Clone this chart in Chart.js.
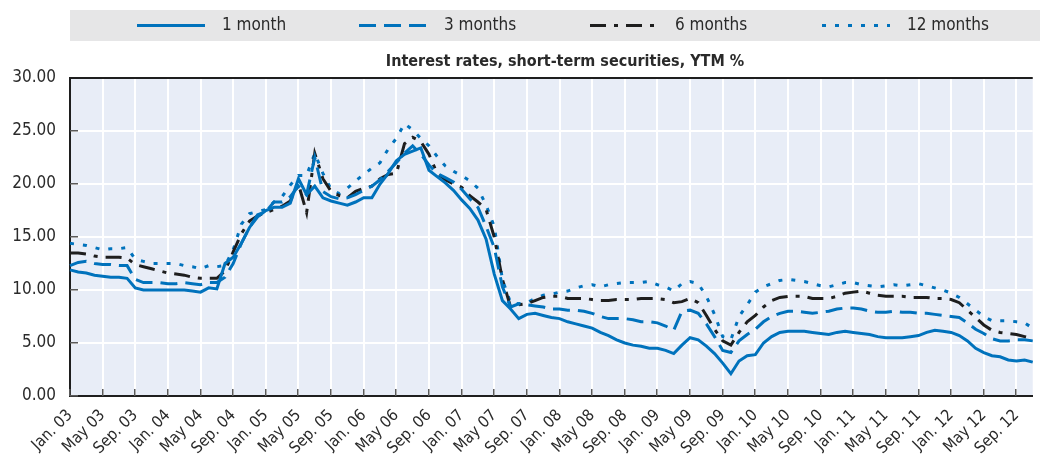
<!DOCTYPE html>
<html><head><meta charset="utf-8">
<script src="https://cdn.jsdelivr.net/npm/chart.js@4.4.0/dist/chart.umd.min.js"></script>
<style>html,body{margin:0;padding:0;background:#fff;}</style>
</head><body>
<canvas id="c" width="1040" height="459"></canvas>
<script>
// ---------- DATA ----------
const monthNames = ['Jan.','Feb.','Mar.','Apr.','May','Jun.','Jul.','Aug.','Sep.','Oct.','Nov.','Dec.'];
const years = ['03','04','05','06','07','08','09','10','11','12'];
const tickLabels = ['Jan. 03','May 03','Sep. 03','Jan. 04','May 04','Sep. 04','Jan. 05','May 05','Sep. 05',
  'Jan. 06','May 06','Sep. 06','Jan. 07','May 07','Sep. 07','Jan. 08','May 08','Sep. 08','Jan. 09','May 09',
  'Sep. 09','Jan. 10','May 10','Sep. 10','Jan. 11','May 11','Sep. 11','Jan. 12','May 12','Sep. 12'];
const seriesNames = ['1 month','3 months','6 months','12 months'];

const oneMonth = [11.9,11.7,11.6,11.4,11.3,11.2,11.2,11.1,10.2,10.0,
  10.0,10.0,10.0,10.0,10.0,9.9,9.8,10.2,10.1,12.5,
  13.1,14.4,15.9,16.9,17.5,17.8,17.8,18.2,20.5,19.0,
  19.8,18.7,18.4,18.2,18.0,18.3,18.7,18.7,20.0,21.0,
  22.2,22.8,23.1,23.4,21.3,20.7,20.1,19.4,18.5,17.7,
  16.6,14.8,11.5,9.0,8.2,7.3,7.7,7.8,7.6,7.4,
  7.3,7.0,6.8,6.6,6.4,6.0,5.7,5.3,5.0,4.8,
  4.7,4.5,4.5,4.3,4.0,4.8,5.5,5.3,4.7,4.0,
  3.1,2.1,3.3,3.8,3.9,5.0,5.6,6.0,6.1,6.1,
  6.1,6.0,5.9,5.8,6.0,6.1,6.0,5.9,5.8,5.6,
  5.5,5.5,5.5,5.6,5.7,6.0,6.2,6.1,6.0,5.7,
  5.2,4.5,4.1,3.8,3.7,3.4,3.3,3.4,3.2];

const threeMonths = [12.3,12.6,12.7,12.5,12.4,12.4,12.3,12.3,11.0,10.7,
  10.7,10.7,10.6,10.6,10.7,10.6,10.5,10.7,10.7,11.2,
  12.5,14.4,15.9,17.1,17.4,18.3,18.3,18.8,19.8,19.0,
  22.5,19.3,18.8,18.6,18.7,19.0,19.4,19.8,20.4,21.2,
  22.0,22.9,23.6,22.8,21.8,21.0,20.6,20.2,19.5,18.6,
  17.8,16.0,14.0,10.3,8.4,8.7,8.6,8.5,8.4,8.2,
  8.2,8.1,8.1,8.0,7.8,7.5,7.3,7.3,7.3,7.2,
  7.0,7.0,6.9,6.6,6.2,8.0,8.1,7.8,6.8,5.6,
  4.3,4.1,5.2,5.8,6.3,7.0,7.5,7.8,8.0,8.0,
  7.9,7.8,7.9,8.0,8.2,8.3,8.3,8.2,8.0,7.9,
  7.9,8.0,7.9,7.9,7.8,7.8,7.7,7.6,7.5,7.4,
  6.9,6.3,5.9,5.4,5.2,5.2,5.3,5.3,5.2];

const sixMonths = [13.5,13.5,13.4,13.2,13.1,13.1,13.1,13.0,12.4,12.2,
  12.0,11.8,11.6,11.5,11.4,11.2,11.1,11.1,11.1,11.8,
  13.6,15.3,16.5,17.0,17.3,17.6,17.9,18.4,20.0,17.3,
  22.9,20.5,19.3,18.9,18.7,19.3,19.6,19.8,20.5,20.9,
  21.0,23.8,24.4,24.0,22.8,21.0,20.4,20.0,19.7,18.9,
  18.3,17.6,15.0,11.0,8.4,8.6,8.7,9.0,9.3,9.4,
  9.4,9.2,9.2,9.2,9.1,9.0,9.0,9.1,9.1,9.1,
  9.2,9.2,9.2,9.1,8.8,8.9,9.2,8.8,7.6,6.3,
  5.2,4.8,6.0,7.0,7.6,8.4,9.0,9.3,9.4,9.4,
  9.4,9.2,9.2,9.2,9.4,9.7,9.8,9.9,9.7,9.5,
  9.4,9.4,9.4,9.3,9.3,9.3,9.2,9.2,9.1,8.8,
  8.1,7.4,6.7,6.2,6.0,5.9,5.8,5.6,5.4];

const twelveMonths = [14.4,14.3,14.2,14.0,13.8,13.9,13.9,14.0,12.9,12.7,
  12.5,12.5,12.5,12.5,12.3,12.2,12.0,12.3,12.2,12.3,
  13.8,16.2,17.2,17.4,17.6,18.3,18.8,19.9,20.8,20.8,
  22.9,21.0,19.5,19.1,19.6,20.3,20.9,21.5,22.0,23.3,
  24.3,25.7,25.1,24.3,23.6,22.6,21.7,21.2,20.8,20.3,
  19.6,18.0,16.0,11.0,8.8,8.7,8.8,9.2,9.5,9.6,
  9.8,9.9,10.2,10.4,10.5,10.3,10.5,10.6,10.7,10.7,
  10.7,10.8,10.5,10.3,9.9,10.6,10.8,10.6,9.4,7.7,
  5.6,5.3,7.5,8.6,9.8,10.3,10.6,10.9,11.0,10.9,
  10.8,10.6,10.4,10.3,10.5,10.7,10.7,10.5,10.4,10.3,
  10.4,10.5,10.4,10.5,10.6,10.4,10.2,10.0,9.7,9.3,
  8.7,8.1,7.5,7.1,7.1,7.1,7.0,6.9,6.4];

// categories: Jan. 03 ... Nov. 12 (one per value)
const categories = [];
years.forEach(y => monthNames.forEach(m => categories.push(m + ' ' + y)));
categories.length = oneMonth.length;

// ---------- STYLE ----------
const FONT = "'DejaVu Sans Condensed', 'DejaVu Sans', sans-serif";
const BLUE = '#0072bc';
const BLACK = '#1e1e1e';
const TEXT = '#2a2a2a';
const TICK_STEP = 4;

const decor = {
  id: 'decor',
  beforeDraw(chart) {
    const {ctx, chartArea: a} = chart;
    ctx.save();
    ctx.fillStyle = 'rgb(232,237,247)';
    ctx.fillRect(a.left, a.top, a.right - a.left, a.bottom - a.top);
    ctx.fillStyle = '#e6e6e7';
    ctx.fillRect(a.left, 10, chart.width - a.left, 31);
    ctx.restore();
  },
  beforeDatasetsDraw(chart) {
    const {ctx, chartArea: a} = chart;
    const xs = chart.scales.x;
    ctx.save();
    ctx.fillStyle = '#ffffff';
    for (let i = TICK_STEP; i < categories.length; i += TICK_STEP) {
      const px = Math.round(xs.getPixelForValue(i));
      ctx.fillRect(px - 1, a.top + 1, 2, a.bottom - a.top - 2);
    }
    ctx.restore();
  },
  afterDraw(chart) {
    const {ctx, chartArea: a} = chart;
    const xs = chart.scales.x, ys = chart.scales.y;
    ctx.save();
    // inner tick marks
    ctx.fillStyle = '#5a5a5a';
    ys.ticks.forEach(t => {
      const py = Math.round(ys.getPixelForValue(t.value));
      ctx.fillRect(a.left, py - 1, 8, 1.5);
    });
    for (let i = 0; i < categories.length; i += TICK_STEP) {
      const px = Math.round(xs.getPixelForValue(i));
      ctx.fillRect(px - 1, a.bottom - 7, 1.5, 7);
    }
    // top border
    ctx.fillStyle = BLACK;
    ctx.fillRect(a.left - 1, a.top - 1, a.right - a.left + 1, 2);
    // title
    ctx.fillStyle = TEXT;
    ctx.font = "bold 16px " + FONT;
    ctx.textAlign = 'center';
    ctx.textBaseline = 'middle';
    ctx.fillText('Interest rates, short-term securities, YTM %', 565, 62);
    // legend
    const starts = [137, 359, 590, 822];
    ctx.textAlign = 'left';
    ctx.font = "17px " + FONT;
    chart.data.datasets.forEach((ds, i) => {
      const x = starts[i];
      ctx.strokeStyle = ds.borderColor;
      ctx.lineWidth = ds.borderWidth;
      ctx.setLineDash(ds.borderDash || []);
      ctx.beginPath(); ctx.moveTo(x, 25.5); ctx.lineTo(x + 68, 25.5); ctx.stroke();
      ctx.setLineDash([]);
      ctx.fillStyle = TEXT;
      ctx.fillText(ds.label, x + 85, 26);
    });
    ctx.restore();
  }
};

const mk = (label, data, color, dash) => ({
  label, data, borderColor: color, backgroundColor: color, borderWidth: 3,
  borderDash: dash, pointRadius: 0, tension: 0, fill: false, borderCapStyle: 'butt'
});

new Chart(document.getElementById('c'), {
  type: 'line',
  data: {
    labels: categories,
    datasets: [
      mk(seriesNames[0], oneMonth, BLUE, []),
      mk(seriesNames[1], threeMonths, BLUE, [17, 8]),
      mk(seriesNames[2], sixMonths, BLACK, [16, 8, 4, 8]),
      mk(seriesNames[3], twelveMonths, BLUE, [4, 9])
    ]
  },
  options: {
    responsive: false,
    animation: false,
    devicePixelRatio: 1,
    layout: { padding: { top: 78, left: 0, right: 0, bottom: 0 } },
    plugins: { legend: { display: false }, tooltip: { enabled: false }, title: { display: false } },
    scales: {
      x: {
        type: 'category',
        afterFit: s => { s.height = 63; },
        grid: { display: false, drawTicks: false },
        border: { display: true, color: BLACK, width: 2 },
        ticks: {
          autoSkip: false, maxRotation: 45, minRotation: 45, padding: 10,
          color: TEXT, font: { family: FONT, size: 16 },
          callback: (v, i) => (i % TICK_STEP === 0 ? tickLabels[i / TICK_STEP] : null)
        }
      },
      y: {
        min: 0, max: 30,
        afterFit: s => { s.width = 70; },
        grid: { color: '#ffffff', lineWidth: 2, drawTicks: false },
        border: { color: BLACK, width: 2 },
        ticks: { stepSize: 5, padding: 14, color: TEXT, font: { family: FONT, size: 17 },
          callback: v => Number(v).toFixed(2) }
      }
    }
  },
  plugins: [decor]
});
</script>
</body></html>
